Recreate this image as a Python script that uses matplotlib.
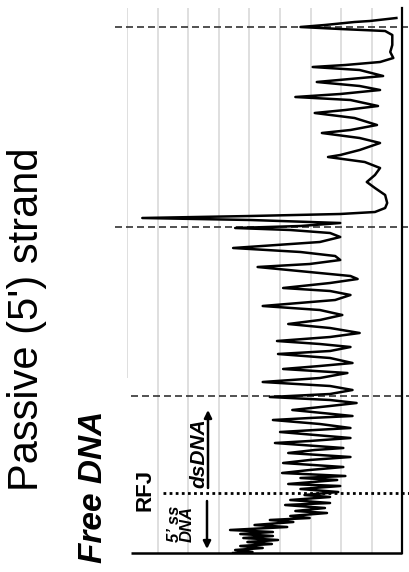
import matplotlib.pyplot as plt

# Densitometry trace of the passive (5') strand lane.
# distance: migration distance along the lane (bottom = 0)
# density: band intensity (arbitrary units)
distance = [535, 532, 531, 528, 526, 524, 522, 518, 508, 501, 495, 491, 488, 486,
            483, 477, 474, 471, 467, 463, 459, 456, 453, 447, 443, 440, 435, 428,
            423, 420, 415, 410, 403, 398, 396, 391, 385, 378, 371, 365, 358, 350,
            345, 341, 339, 337, 335, 333, 330, 327, 325, 323, 320, 316, 311, 305,
            301, 297, 293, 289, 286, 281, 277, 274, 270, 265, 262, 258, 253, 247,
            243, 238, 233, 229, 225, 220, 216, 212, 209, 206, 202, 199, 195, 190,
            187, 184, 180, 175, 171, 167, 163, 159, 156, 153, 150, 147, 143, 137,
            135, 133, 129, 125, 123, 121, 115, 112, 110, 105, 103, 100, 96, 93,
            90, 86, 83, 80, 77, 75, 73, 69, 67, 64, 61, 58, 56, 53, 50, 48, 45,
            42, 40, 37, 35, 33, 31, 28, 26, 23, 21, 19, 17, 15, 13, 11, 9, 7, 5,
            3, 1, 0]
density = [264, 238, 223, 194, 170, 209, 253, 260, 260, 258, 261, 248, 214, 182,
           228, 251, 219, 186, 228, 248, 209, 165, 219, 246, 214, 184, 223, 245,
           219, 191, 228, 248, 228, 209, 197, 233, 248, 243, 235, 243, 253, 255,
           253, 243, 209, 121, 15, 121, 209, 170, 106, 160, 199, 209, 189, 104,
           170, 204, 209, 179, 128, 179, 219, 226, 199, 153, 199, 219, 204, 133,
           189, 211, 189, 158, 199, 228, 199, 147, 189, 219, 199, 148, 199, 221,
           189, 153, 216, 189, 133, 199, 221, 199, 140, 199, 225, 199, 162, 221,
           179, 143, 189, 219, 184, 150, 219, 179, 145, 212, 184, 158, 219, 179,
           153, 212, 179, 152, 214, 170, 206, 158, 209, 170, 207, 174, 199, 160,
           199, 155, 194, 165, 196, 160, 179, 140, 163, 125, 157, 101, 143, 111,
           143, 114, 148, 118, 142, 111, 133, 106, 123, 104]

# Lane boundaries and replication-fork junction (RFJ) position
boundaries = [526, 326, 157]
rfj = 60
grid_x = [0, 30, 60, 90, 120, 150, 180, 210, 240]

W, H = 409, 572
fig = plt.figure(figsize=(W / 100, H / 100), dpi=100)
ax = fig.add_axes([127 / W, 19 / H, 275.5 / W, 545 / H])
ax.set_xlim(0, 270)
ax.set_ylim(0, 545)
for side in ("top", "left", "bottom"):
    ax.spines[side].set_visible(False)
ax.spines["right"].set_linewidth(1.6)
ax.set_xticks([])
ax.set_yticks([])

for g in grid_x:
    ax.plot([g, g], [175 if g == 0 else 0, 545], color="#d9d9d9", lw=1.2,
            zorder=0, solid_capstyle="butt")

ax.plot([4, 270], [0, 0], color="black", lw=1.8, clip_on=False,
        solid_capstyle="butt")

for p, x0 in zip(boundaries, [-12, -12, 4]):
    ax.plot([x0, 276], [p, p], ls=(0, (4.2, 2.4)), lw=1.2, color="#333333",
            clip_on=False)
ax.plot([35, 276], [rfj, rfj], ls=(0, (1, 1.2)), lw=2, color="black",
        clip_on=False)

ax.plot(density, distance, color="black", lw=1.8, solid_joinstyle="round")


def fx(x):
    return x / W


def fy(y):
    return 1 - y / H


fig.text(fx(27), fy(319), "Passive (5') strand", rotation=90, ha="center",
         va="center", fontsize=30, family="Liberation Sans")
fig.text(fx(93), fy(487), "Free DNA", rotation=90, ha="center", va="center",
         fontsize=24, family="Liberation Sans", weight="bold", style="italic")
fig.text(fx(145), fy(490), "RFJ", rotation=90, ha="center", va="center",
         fontsize=16, family="Liberation Sans", weight="bold")
fig.text(fx(181), fy(524), "5\u2019 ss\nDNA", rotation=90, ha="center",
         va="center", fontsize=12, family="Liberation Sans", style="italic",
         weight="bold", linespacing=0.85)
fig.text(fx(199), fy(453), "dsDNA", rotation=90, ha="center", va="center",
         fontsize=15, family="Liberation Sans", style="italic", weight="bold")

arrow = dict(arrowstyle="-|>", color="black", lw=1.8, mutation_scale=11,
             shrinkA=0, shrinkB=0)
ax.annotate("", xy=(fx(208), fy(410)), xytext=(fx(208), fy(488)),
            xycoords="figure fraction", textcoords="figure fraction",
            arrowprops=arrow)
ax.annotate("", xy=(fx(207), fy(549)), xytext=(fx(207), fy(501)),
            xycoords="figure fraction", textcoords="figure fraction",
            arrowprops=arrow)

fig.savefig("out.png", dpi=100)
